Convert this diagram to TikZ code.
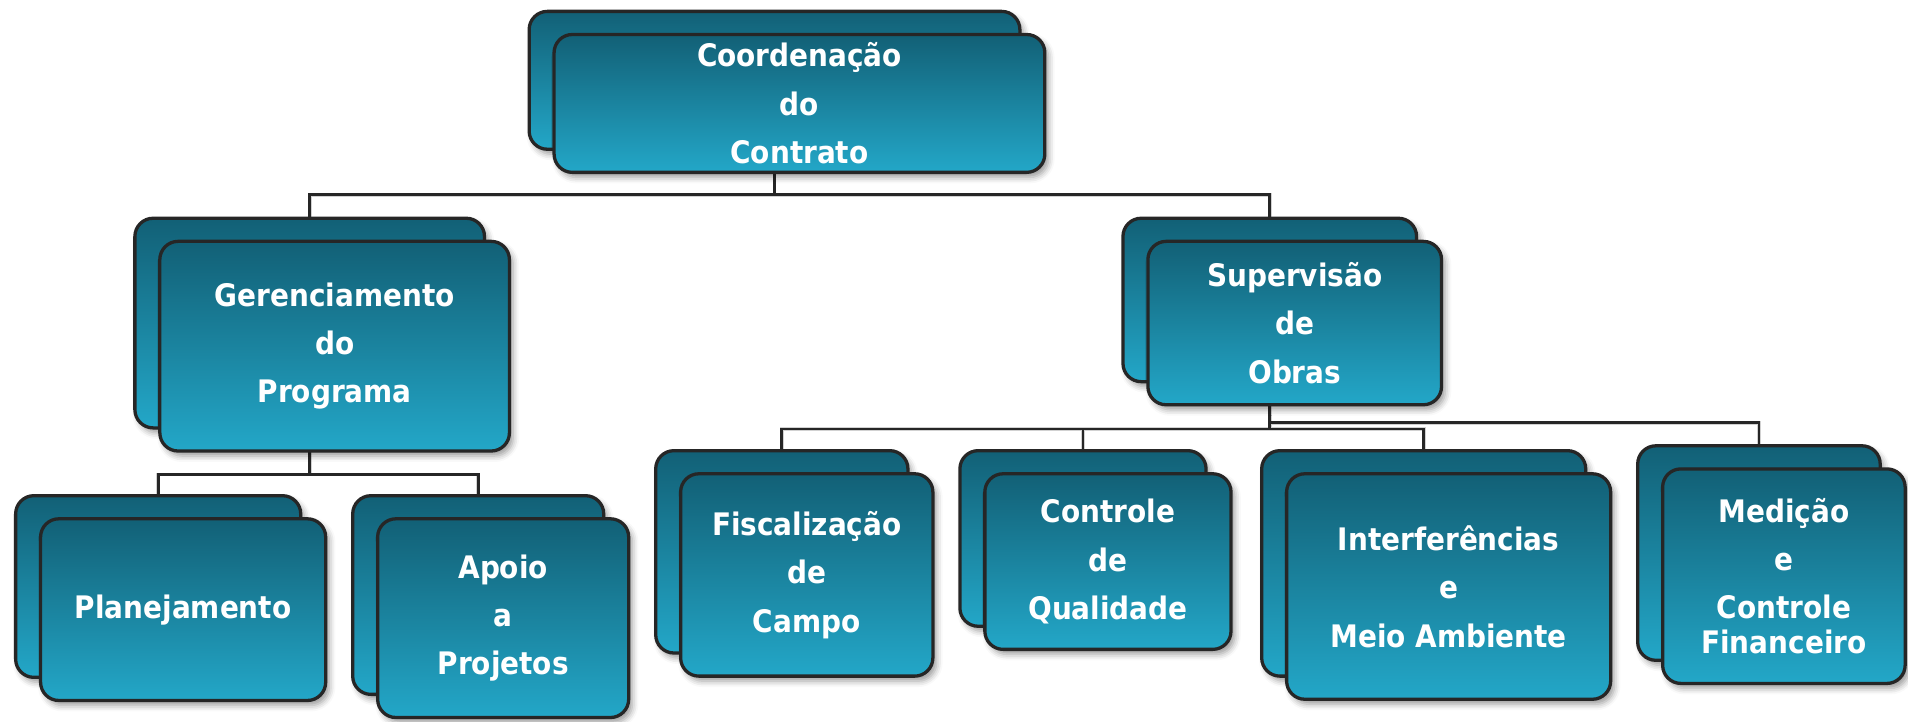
\documentclass[tikz,border=0pt]{standalone}
\usepackage{fontspec}
\newfontfamily\boxfont{DejaVu Sans Condensed Bold}
\usetikzlibrary{shadows.blur,backgrounds,calc}
\definecolor{boxtop}{RGB}{18,96,118}
\definecolor{boxbot}{RGB}{35,167,200}
\definecolor{linec}{RGB}{38,38,38}
\tikzset{
  orgbox/.style={draw=linec, line width=2.7pt, rounded corners=15pt,
    top color=boxtop, bottom color=boxbot, inner sep=0pt,
    blur shadow={shadow xshift=3pt, shadow yshift=-4pt, shadow blur radius=5pt, shadow opacity=40}},
  orgtext/.style={text=white, align=center, font=\boxfont\fontsize{25.5}{39.7}\selectfont},
  conn/.style={draw=linec, line width=2.3pt},
  connshadow/.style={draw=black!18, line width=3pt, xshift=2pt, yshift=-3pt}
}
\newcommand\orgunit[6]{%
  \node[orgbox, minimum width={(#4-#2-2.7)*1pt}, minimum height={(#5-#3-2.7)*1pt}]
    (#1b) at ({(#2+#4)/2-20.5},{(#3+#5)/2-19}) {};
  \node[orgbox, orgtext, minimum width={(#4-#2-2.7)*1pt}, minimum height={(#5-#3-2.7)*1pt}]
    (#1) at ({(#2+#4)/2},{(#3+#5)/2}) {#6};
}
\begin{document}
\begin{tikzpicture}[x=1pt,y=-1pt]
\useasboundingbox (0,0) rectangle (1568,593);
\coordinate (busTop) at (0,160);
\coordinate (busGer) at (0,390);
\coordinate (busA) at (0,352.5);
\coordinate (busB) at (0,347.5);

\orgunit{coord}{454}{27}{860}{143}{Coordenação\\do\\Contrato}
\orgunit{ger}{130}{197}{420}{372}{Gerenciamento\\do\\Programa}
\orgunit{sup}{942}{197}{1186}{334}{Supervisão\\de\\Obras}
\orgunit{pla}{32}{425}{269}{577}{Planejamento}
\orgunit{apo}{309}{425}{518}{591}{Apoio\\a\\Projetos}
\orgunit{fis}{558}{388}{768}{557}{Fiscalização\\de\\Campo}
\orgunit{ctl}{808}{388}{1013}{535}{Controle\\de\\Qualidade}
\orgunit{int}{1056}{388}{1325}{576}{Interferências\\e\\Meio Ambiente}
\orgunit{med}{1365}{384}{1567}{563}{Medição\\e\\Controle\\[-11pt]Financeiro}

\begin{pgfonlayer}{background}
  \foreach \sty in {connshadow,conn}{
    \draw[\sty] (coordb.south) -- (coordb.south |- busTop) -| (gerb.north);
    \draw[\sty] (coordb.south |- busTop) -| (supb.north);
    \draw[\sty] (gerb.south) -- (gerb.south |- busGer) -| (plab.north);
    \draw[\sty] (gerb.south |- busGer) -| (apob.north);
    \draw[\sty] (supb.south) -- (supb.south |- busA) -| (fisb.north);
    \draw[\sty] (supb.south |- busA) -| (ctlb.north);
    \draw[\sty] (supb.south |- busA) -| (intb.north);
    \draw[\sty] (supb.south |- busB) -| (medb.north);
  }
\end{pgfonlayer}
\end{tikzpicture}
\end{document}
